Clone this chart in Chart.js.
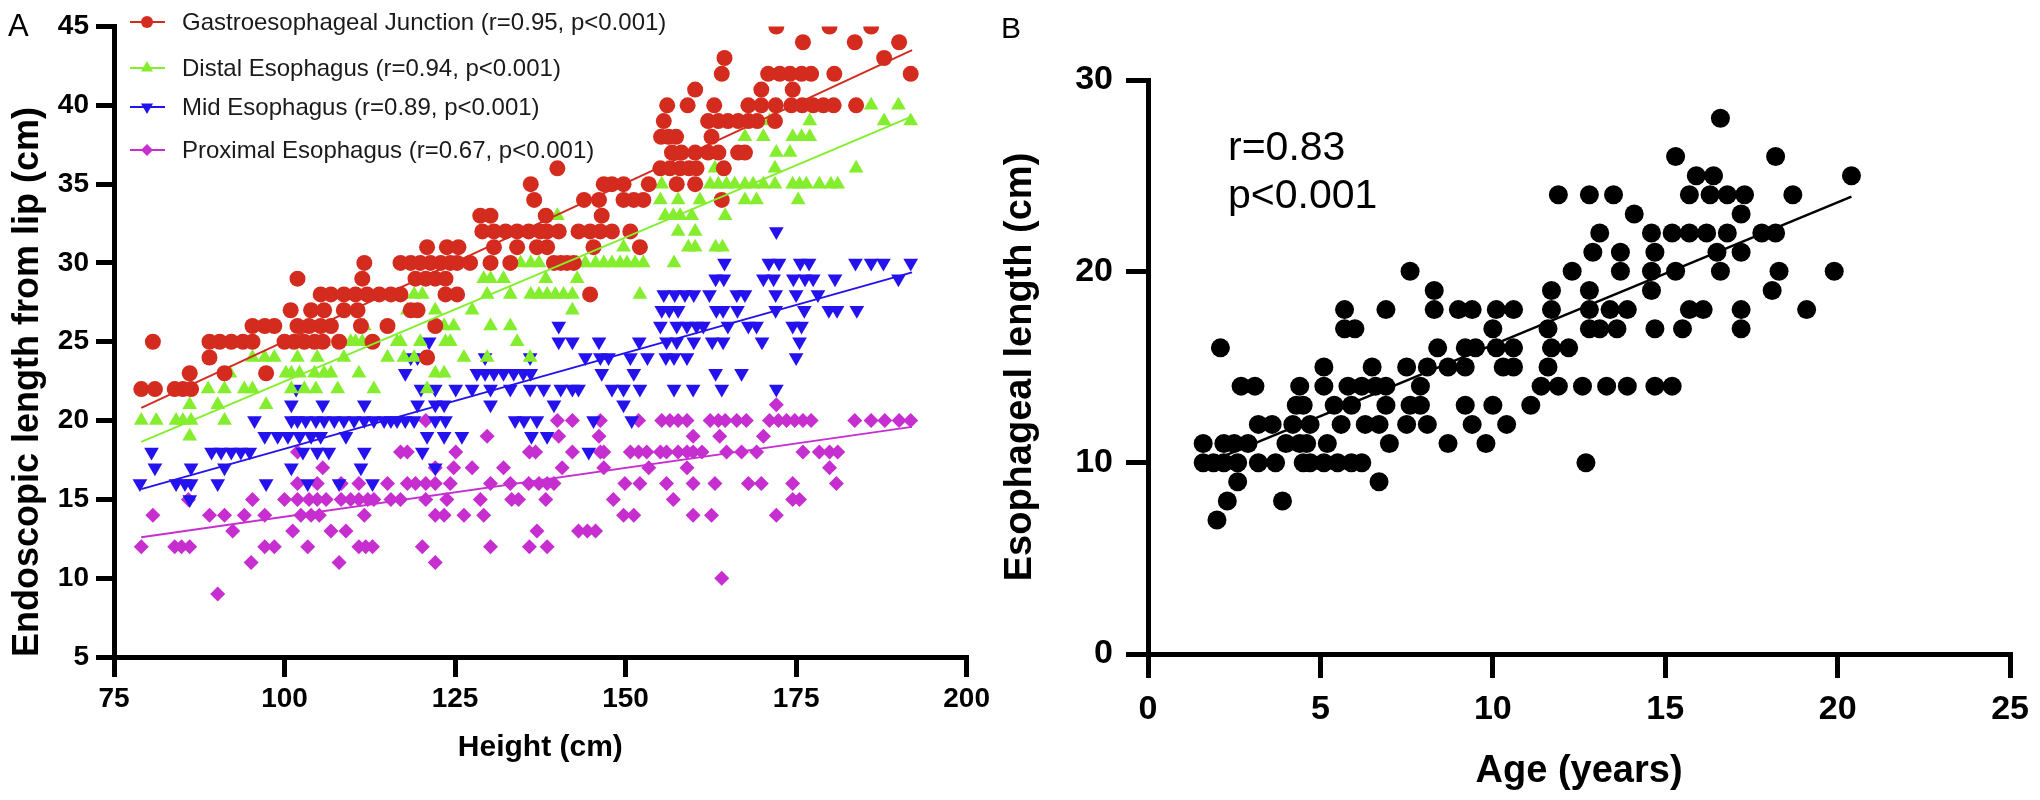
<!DOCTYPE html>
<html><head><meta charset="utf-8">
<script src="https://cdn.jsdelivr.net/npm/chart.js@4.4.0/dist/chart.umd.min.js"></script>
<style>
html,body{margin:0;padding:0;background:#fff;}
body{width:2040px;height:800px;position:relative;overflow:hidden;}
#cA{position:absolute;left:0;top:0;}
#cB{position:absolute;left:995px;top:0;}
</style></head><body>
<canvas id="cA" width="995" height="800"></canvas>
<canvas id="cB" width="1045" height="800"></canvas>
<script>
// ---------- Panel A data: [height (cm), endoscopic length (cm)] ----------
const seriesLabelsA = [
  'Gastroesophageal Junction (r=0.95, p<0.001)',
  'Distal Esophagus (r=0.94, p<0.001)',
  'Mid Esophagus (r=0.89, p<0.001)',
  'Proximal Esophagus (r=0.67, p<0.001)'
];
const gejPoints = [
  [172.1,45],[179.9,45],[186.0,45],
  [176.0,44],[183.6,44],[190.1,44],
  [164.5,43],[187.9,43],
  [164.1,42],[170.9,42],[172.6,42],[174.1,42],[175.8,42],[177.2,42],[180.6,42],[191.8,42],
  [160.2,41],[169.9,41],[174.5,41],
  [156.1,40],[159.1,40],[163.0,40],[168.0,40],[169.9,40],[172.0,40],[174.3,40],[175.9,40],[177.5,40],[179.0,40],[180.5,40],[183.8,40],
  [155.6,39],[162.1,39],[163.6,39],[165.0,39],[166.5,39],[168.0,39],[169.3,39],[171.9,39],
  [155.2,38],[156.3,38],[157.4,38],[162.6,38],
  [156.8,37],[158.2,37],[160.2,37],[162.1,37],[163.6,37],[166.5,37],[167.5,37],
  [140.0,36],[155.1,36],[156.5,36],[158.0,36],[159.3,36],[160.4,36],[164.4,36],
  [136.1,35],[146.8,35],[148.0,35],[149.7,35],[153.4,35],[157.5,35],[160.2,35],
  [136.6,34],[143.9,34],[146.1,34],[149.7,34],[151.2,34],[152.6,34],[164.1,34],
  [128.7,33],[130.2,33],[138.3,33],[146.5,33],
  [129.0,32],[130.7,32],[132.4,32],[134.1,32],[135.8,32],[137.5,32],[138.5,32],[140.2,32],[143.1,32],[144.8,32],[146.3,32],[148.0,32],[150.7,32],
  [120.9,31],[123.8,31],[125.5,31],[130.7,31],[134.1,31],[137.0,31],[138.5,31],[145.3,31],[152.1,31],
  [111.7,30],[117.0,30],[118.5,30],[119.9,30],[121.4,30],[122.9,30],[124.3,30],[125.3,30],[127.2,30],[130.2,30],[133.1,30],[139.5,30],[140.5,30],[141.4,30],[142.4,30],
  [101.9,29],[111.4,29],[119.2,29],[120.7,29],[122.1,29],[123.6,29],
  [105.3,28],[106.8,28],[108.7,28],[110.4,28],[112.1,28],[113.9,28],[115.6,28],[117.0,28],[123.6,28],[125.3,28],[144.8,28],
  [100.9,27],[103.9,27],[105.8,27],[108.7,27],[110.7,27],[118.5,27],[119.5,27],
  [95.3,26],[97.1,26],[98.5,26],[101.9,26],[103.6,26],[105.3,26],[106.8,26],[111.2,26],[115.1,26],[122.1,26],
  [80.7,25],[89.0,25],[90.5,25],[92.2,25],[93.9,25],[95.3,25],[100.0,25],[101.4,25],[102.9,25],[104.4,25],[105.6,25],[108.0,25],[112.9,25],
  [89.0,24],[120.9,24],
  [86.1,23],[91.2,23],[97.3,23],
  [79.0,22],[81.0,22],[83.9,22],[85.1,22],[86.3,22]
];
const distalPoints = [
  [186.0,40],[190.0,40],
  [171.1,39],[177.0,39],[187.9,39],[191.8,39],
  [167.5,38],[170.2,38],[174.5,38],[175.8,38],[177.0,38],
  [172.1,37],[174.1,37],
  [163.1,36],[171.9,36],[183.8,36],
  [155.3,35],[157.5,35],[162.4,35],[163.6,35],[164.8,35],[166.0,35],[167.5,35],[168.7,35],[170.2,35],[171.9,35],[174.5,35],[175.5,35],[176.5,35],[178.4,35],[180.1,35],[181.1,35],
  [155.1,34],[157.7,34],[160.9,34],[167.5,34],[169.2,34],[175.3,34],
  [140.0,33],[155.8,33],[157.0,33],[158.0,33],[159.7,33],[164.6,33],
  [157.7,32],[160.2,32],
  [149.7,31],[159.2,31],[160.2,31],[163.2,31],[164.2,31],
  [134.6,30],[136.1,30],[137.3,30],[140.5,30],[142.9,30],[144.1,30],[145.6,30],[146.8,30],[148.0,30],[149.2,30],[150.2,30],[151.4,30],[152.6,30],[157.1,30],
  [129.2,29],[130.2,29],[132.1,29],[138.3,29],[142.9,29],
  [119.0,28],[120.2,28],[129.7,28],[133.1,28],[136.1,28],[137.3,28],[138.5,28],[139.7,28],[140.9,28],[142.2,28],[152.1,28],
  [118.0,27],[122.1,27],[127.5,27],[142.2,27],
  [111.7,26],[123.4,26],[124.8,26],[130.2,26],[133.1,26],
  [105.8,25],[109.7,25],[110.4,25],[111.4,25],[116.5,25],[117.0,25],[119.9,25],[123.6,25],[124.3,25],[134.1,25],
  [95.3,24],[97.1,24],[98.5,24],[101.9,24],[104.8,24],[108.7,24],[115.1,24],[117.5,24],[119.0,24],[126.3,24],[129.7,24],[136.0,24],
  [92.0,23],[100.2,23],[101.0,23],[102.2,23],[104.4,23],[105.8,23],[106.8,23],[110.9,23],[122.1,23],[123.4,23],
  [88.8,22],[91.2,22],[94.1,22],[95.3,22],[101.0,22],[102.9,22],[104.6,22],[107.8,22],[113.1,22],[120.9,22],
  [86.1,21],[90.2,21],[97.3,21],
  [79.0,20],[81.2,20],[84.1,20],[85.1,20],[86.3,20],[91.2,20],
  [86.1,19]
];
const midPoints = [
  [172.1,32],
  [164.5,30],[171.0,30],[172.5,30],[175.6,30],[176.9,30],[183.7,30],[186.0,30],[187.8,30],[191.8,30],
  [163.2,29],[164.4,29],[170.2,29],[171.7,29],[174.6,29],[176.3,29],[177.5,29],[180.7,29],[190.0,29],
  [155.6,28],[157.2,28],[158.7,28],[160.0,28],[162.3,28],[166.3,28],[167.5,28],[172.0,28],[175.0,28],[178.2,28],
  [155.3,27],[156.4,27],[157.7,27],[163.3,27],[164.3,27],[166.4,27],[172.0,27],[176.2,27],[179.8,27],[181.0,27],[183.9,27],
  [140.2,26],[155.1,26],[157.5,26],[159.0,26],[160.4,26],[161.4,26],[165.0,26],[168.0,26],[169.2,26],[174.5,26],[175.8,26],
  [121.2,25],[140.2,25],[142.2,25],[146.1,25],[152.0,25],[156.0,25],[157.5,25],[160.0,25],[162.7,25],[164.3,25],[170.0,25],[175.5,25],
  [118.5,24],[119.5,24],[129.4,24],[136.0,24],[144.1,24],[146.3,24],[147.5,24],[150.7,24],[153.2,24],[155.9,24],[157.1,24],[159.0,24],[175.0,24],
  [117.7,23],[128.2,23],[129.4,23],[130.7,23],[132.1,23],[133.6,23],[135.0,23],[136.1,23],[146.5,23],[151.2,23],[163.2,23],[167.0,23],
  [101.7,22],[120.0,22],[122.1,22],[125.1,22],[127.5,22],[130.2,22],[133.1,22],[136.0,22],[138.0,22],[140.5,22],[142.2,22],[143.1,22],[148.0,22],[149.7,22],[152.1,22],[157.1,22],[159.9,22],[164.1,22],[172.1,22],
  [101.0,21],[105.6,21],[111.7,21],[119.5,21],[122.1,21],[123.4,21],[130.2,21],[139.5,21],[149.7,21],
  [95.6,20],[101.0,20],[101.9,20],[103.1,20],[104.6,20],[105.8,20],[107.3,20],[108.7,20],[110.2,20],[111.7,20],[113.1,20],[114.6,20],[115.6,20],[116.5,20],[117.7,20],[119.0,20],[122.1,20],[123.6,20],[133.8,20],[135.1,20],[137.0,20],[145.3,20],[150.9,20],
  [97.1,19],[99.0,19],[100.5,19],[102.2,19],[103.9,19],[105.3,19],[109.0,19],[120.9,19],[123.4,19],[126.0,19],[136.2,19],[138.5,19],
  [80.5,18],[89.3,18],[90.7,18],[92.2,18],[93.6,18],[94.9,18],[102.7,18],[104.8,18],[106.5,18],[111.7,18],[120.2,18],[144.6,18],
  [81.0,17],[86.3,17],[91.2,17],[101.0,17],[111.2,17],[122.1,17],
  [78.8,16],[84.1,16],[85.4,16],[86.3,16],[90.2,16],[97.3,16],[103.4,16],[108.0,16],[112.9,16],
  [86.1,15]
];
const proxPoints = [
  [172.1,21],
  [120.7,20],[140.0,20],[142.2,20],[146.3,20],[151.9,20],[155.3,20],[156.5,20],[157.7,20],[159.0,20],[162.4,20],[163.6,20],[164.6,20],[166.3,20],[167.7,20],[171.1,20],[172.4,20],[173.6,20],[174.8,20],[176.0,20],[177.2,20],[183.6,20],[186.0,20],[188.0,20],[190.1,20],[191.8,20],
  [129.7,19],[140.2,19],[146.1,19],[159.9,19],[163.8,19],[170.2,19],
  [101.9,18],[117.0,18],[118.0,18],[125.1,18],[135.9,18],[136.8,18],[142.2,18],[146.3,18],[146.8,18],[150.7,18],[151.9,18],[153.1,18],[155.1,18],[156.0,18],[157.7,18],[159.0,18],[159.9,18],[161.2,18],[164.8,18],[167.0,18],[169.2,18],[176.0,18],[178.4,18],[179.9,18],[181.1,18],
  [105.6,17],[122.1,17],[124.8,17],[127.5,17],[132.1,17],[140.7,17],[146.8,17],[153.4,17],[159.0,17],[179.9,17],
  [101.9,16],[104.8,16],[108.3,16],[110.9,16],[115.1,16],[118.0,16],[119.2,16],[120.7,16],[122.1,16],[124.3,16],[130.2,16],[133.1,16],[135.8,16],[137.3,16],[138.5,16],[139.5,16],[149.9,16],[152.1,16],[156.0,16],[159.9,16],[163.1,16],[168.0,16],[169.9,16],[174.5,16],[180.9,16],
  [85.9,15],[95.3,15],[100.0,15],[101.9,15],[103.6,15],[104.8,15],[106.1,15],[108.3,15],[109.7,15],[110.9,15],[112.2,15],[113.1,15],[115.6,15],[117.0,15],[120.7,15],[123.8,15],[128.7,15],[133.3,15],[134.3,15],[138.3,15],[148.2,15],[157.0,15],[174.5,15],[175.5,15],
  [80.7,14],[89.0,14],[91.2,14],[94.1,14],[97.1,14],[102.4,14],[103.9,14],[105.1,14],[111.7,14],[122.1,14],[123.4,14],[126.3,14],[129.2,14],[149.7,14],[151.2,14],[159.9,14],[162.6,14],[172.1,14],
  [92.4,13],[101.2,13],[106.8,13],[109.0,13],[137.0,13],[143.1,13],[144.4,13],[145.6,13],
  [79.0,12],[83.9,12],[84.9,12],[86.1,12],[97.1,12],[98.5,12],[103.4,12],[110.9,12],[111.9,12],[112.9,12],[120.2,12],[130.2,12],[135.9,12],[138.5,12],
  [95.1,11],[108.0,11],[122.1,11],
  [164.1,10],
  [90.2,9]
];
// Fitted regression lines (end points)
const gejFit = [[79,20.8],[192,43.5]];
const distalFit = [[79,18.65],[192,39.3]];
const midFit = [[79,15.65],[192,29.4]];
const proxFit = [[79,12.6],[192,19.6]];
const ticksA_x = [75,100,125,150,175,200];
const ticksA_y = [5,10,15,20,25,30,35,40,45];

// ---------- Panel B data: [age (years), esophageal length (cm)] ----------
const agePoints = [
  [16.6,28],
  [15.3,26],[18.2,26],
  [15.9,25],[16.4,25],[20.4,25],
  [11.9,24],[12.8,24],[13.5,24],[15.7,24],[16.3,24],[16.8,24],[17.3,24],[18.7,24],
  [14.1,23],[17.2,23],
  [13.1,22],[14.6,22],[15.2,22],[15.7,22],[16.2,22],[16.8,22],[17.8,22],[18.2,22],
  [12.9,21],[13.7,21],[14.7,21],[16.5,21],[17.2,21],
  [7.6,20],[12.3,20],[13.7,20],[14.6,20],[15.3,20],[16.6,20],[18.3,20],[19.9,20],
  [8.3,19],[11.7,19],[12.8,19],[14.6,19],[18.1,19],
  [5.7,18],[6.9,18],[8.3,18],[9.0,18],[9.4,18],[10.1,18],[10.6,18],[11.7,18],[12.8,18],[13.4,18],[13.9,18],[15.7,18],[16.1,18],[17.2,18],[19.1,18],
  [5.7,17],[6.0,17],[10.0,17],[11.6,17],[12.8,17],[13.1,17],[13.6,17],[14.7,17],[15.5,17],[17.2,17],
  [2.1,16],[8.4,16],[9.2,16],[9.5,16],[10.1,16],[10.6,16],[11.7,16],[12.2,16],
  [5.1,15],[6.5,15],[7.5,15],[8.1,15],[8.7,15],[9.2,15],[10.3,15],[10.6,15],[11.6,15],
  [2.7,14],[3.1,14],[4.4,14],[5.1,14],[5.8,14],[6.2,14],[6.6,14],[6.9,14],[7.9,14],[11.4,14],[11.9,14],[12.6,14],[13.3,14],[13.9,14],[14.7,14],[15.2,14],
  [4.3,13],[4.5,13],[5.4,13],[5.9,13],[6.9,13],[7.6,13],[7.9,13],[9.2,13],[10.0,13],[11.1,13],
  [3.2,12],[3.6,12],[4.2,12],[4.7,12],[5.6,12],[6.3,12],[6.7,12],[7.5,12],[8.1,12],[9.4,12],[10.4,12],
  [1.6,11],[2.2,11],[2.5,11],[2.9,11],[4.0,11],[4.4,11],[4.6,11],[5.2,11],[7.0,11],[8.7,11],[9.8,11],
  [1.6,10],[1.9,10],[2.2,10],[2.6,10],[3.2,10],[3.7,10],[4.5,10],[4.7,10],[5.1,10],[5.5,10],[5.9,10],[6.2,10],[12.7,10],
  [2.6,9],[6.7,9],
  [2.3,8],[3.9,8],
  [2.0,7]
];
const ageFit = [[1.6,9.9],[20.4,23.9]];
const ticksB_x = [0,5,10,15,20,25];
const ticksB_y = [0,10,20,30];
const annotationB = ['r=0.83','p<0.001'];

// ---------- styling ----------
const FONT = '"Liberation Sans", Arial, Helvetica, sans-serif';
Chart.defaults.font.family = FONT;
Chart.defaults.color = '#000';
const colA = ['#d42b1f', '#84ee2e', '#2412ee', '#c62ed0'];
const toXY = arr => arr.map(p => ({x: p[0], y: p[1]}));

function lineDs(pts, color, w) {
  return {type: 'line', data: toXY(pts), borderColor: color, borderWidth: w, pointRadius: 0,
          fill: false, tension: 0, order: 0};
}
function ptDs(label, pts, color, style, r, rot, ord) {
  return {type: 'scatter', label: label, data: toXY(pts), pointStyle: style, pointRadius: r,
          pointRotation: rot, backgroundColor: color, borderColor: color, pointBackgroundColor: color,
          pointBorderColor: color, pointBorderWidth: 0, borderWidth: 0, order: ord};
}
function axisCommon(tickLen, tickFont, pad) {
  return {
    grid: {drawOnChartArea: false, drawTicks: true, tickLength: tickLen, tickWidth: 5, tickColor: '#000', lineWidth: 5, color: '#000'},
    border: {display: true, width: 5, color: '#000'},
    ticks: {font: {size: tickFont, weight: 'bold', family: FONT}, color: '#000', padding: pad}
  };
}

const legendA = {
  id: 'legendA',
  afterDraw(chart) {
    const ctx = chart.ctx;
    const rows = [22, 68, 107, 150];
    const styles = [['circle', 6, 0], ['triangle', 7, 0], ['triangle', 7, 180], ['rectRot', 6, 0]];
    ctx.save();
    for (let i = 0; i < 4; i++) {
      const y = rows[i];
      ctx.strokeStyle = colA[i]; ctx.lineWidth = 2;
      ctx.beginPath(); ctx.moveTo(130, y); ctx.lineTo(165, y); ctx.stroke();
      ctx.fillStyle = colA[i];
      Chart.helpers.drawPoint(ctx, {pointStyle: styles[i][0], radius: styles[i][1], rotation: styles[i][2], borderWidth: 0}, 147, y);
      ctx.fillStyle = '#1a1a1a';
      ctx.font = '24px ' + FONT;
      ctx.textBaseline = 'middle'; ctx.textAlign = 'left';
      ctx.fillText(seriesLabelsA[i], 182, y + 1);
    }
    ctx.fillStyle = '#000';
    ctx.font = '31px ' + FONT;
    ctx.textBaseline = 'alphabetic';
    ctx.fillText('A', 8, 36);
    ctx.restore();
  }
};

const xA = axisCommon(20, 28, 5);
const yA = axisCommon(18, 28, 7);
new Chart(document.getElementById('cA'), {
  type: 'scatter',
  data: {datasets: [
    lineDs(gejFit, colA[0], 2), lineDs(distalFit, colA[1], 2), lineDs(midFit, colA[2], 2), lineDs(proxFit, colA[3], 2),
    ptDs(seriesLabelsA[0], gejPoints, colA[0], 'circle', 8, 0, 1),
    ptDs(seriesLabelsA[1], distalPoints, colA[1], 'triangle', 8.5, 0, 2),
    ptDs(seriesLabelsA[2], midPoints, colA[2], 'triangle', 8.5, 180, 3),
    ptDs(seriesLabelsA[3], proxPoints, colA[3], 'rectRot', 7.5, 0, 4)
  ]},
  options: {
    responsive: false, animation: false, devicePixelRatio: 1,
    layout: {padding: {left: 0, top: 26.5, right: 26, bottom: 0}},
    plugins: {legend: {display: false}, tooltip: {enabled: false}},
    scales: {
      x: Object.assign({}, xA, {
        type: 'linear', min: ticksA_x[0], max: ticksA_x[ticksA_x.length - 1],
        afterBuildTicks: s => { s.ticks = ticksA_x.map(v => ({value: v})); },
        title: {display: true, text: 'Height (cm)', color: '#000', font: {size: 30, weight: 'bold', family: FONT}, padding: {top: 0, bottom: 34}},
        afterFit: s => { s.height = 143; }
      }),
      y: Object.assign({}, yA, {
        type: 'linear', min: ticksA_y[0], max: ticksA_y[ticksA_y.length - 1],
        afterBuildTicks: s => { s.ticks = ticksA_y.map(v => ({value: v})); },
        title: {display: true, text: 'Endoscopic length from lip (cm)', align: 'start', color: '#000', font: {size: 36, weight: 'bold', family: FONT}, padding: {top: 6, bottom: 0}},
        afterFit: s => { s.width = 114; }
      })
    }
  },
  plugins: [legendA]
});

const annotB = {
  id: 'annotB',
  afterDraw(chart) {
    const ctx = chart.ctx;
    ctx.save();
    ctx.fillStyle = '#000';
    ctx.font = '41px ' + FONT;
    ctx.textBaseline = 'alphabetic'; ctx.textAlign = 'left';
    ctx.fillText(annotationB[0], 233, 160);
    ctx.fillText(annotationB[1], 233, 208);
    ctx.font = '30px ' + FONT;
    ctx.fillText('B', 6, 38);
    ctx.restore();
  }
};

const xB = axisCommon(24, 34, 11);
const yB = axisCommon(22, 34, 13);
new Chart(document.getElementById('cB'), {
  type: 'scatter',
  data: {datasets: [
    lineDs(ageFit, '#000', 2.5),
    ptDs('Esophageal length', agePoints, '#000', 'circle', 9.5, 0, 1)
  ]},
  options: {
    responsive: false, animation: false, devicePixelRatio: 1,
    layout: {padding: {left: 0, top: 80, right: 29, bottom: 0}},
    plugins: {legend: {display: false}, tooltip: {enabled: false}},
    scales: {
      x: Object.assign({}, xB, {
        type: 'linear', min: ticksB_x[0], max: ticksB_x[ticksB_x.length - 1],
        afterBuildTicks: s => { s.ticks = ticksB_x.map(v => ({value: v})); },
        title: {display: true, text: 'Age (years)', color: '#000', font: {size: 38, weight: 'bold', family: FONT}, padding: {top: 0, bottom: 6}},
        afterFit: s => { s.height = 146; }
      }),
      y: Object.assign({}, yB, {
        type: 'linear', min: ticksB_y[0], max: ticksB_y[ticksB_y.length - 1],
        afterBuildTicks: s => { s.ticks = ticksB_y.map(v => ({value: v})); },
        title: {display: true, text: 'Esophageal length (cm)', color: '#000', font: {size: 38, weight: 'bold', family: FONT}, padding: {top: 3, bottom: 0}},
        afterFit: s => { s.width = 153; }
      })
    }
  },
  plugins: [annotB]
});
</script>
</body></html>
